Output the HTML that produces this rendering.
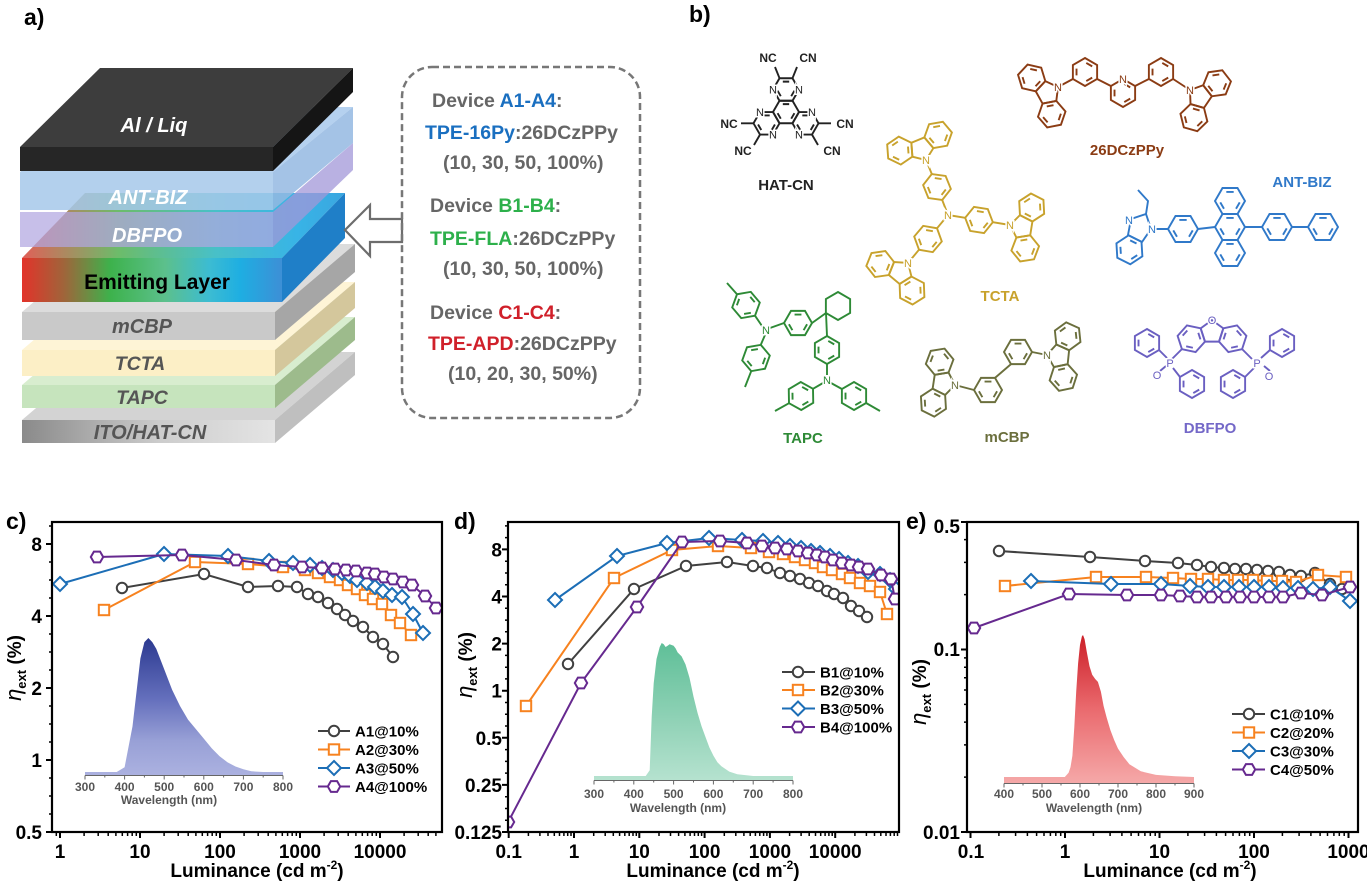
<!DOCTYPE html>
<html><head><meta charset="utf-8">
<style>
html,body{margin:0;padding:0;background:#fff;}
svg{display:block;}
text{font-family:"Liberation Sans",Arial,sans-serif;font-weight:bold;}
.tk{font-size:19px;fill:#000;}
.lg{font-size:15px;fill:#000;}
.in{font-size:12px;fill:#555;}
.pl{font-size:23px;fill:#000;}
.mol{font-size:15px;}
.at{font-size:11px;font-weight:normal;stroke:#fff;stroke-width:3px;paint-order:stroke;}
.dv{font-size:19.5px;fill:#666;}
</style></head>
<body>
<svg width="1367" height="884" viewBox="0 0 1367 884" xmlns="http://www.w3.org/2000/svg">
<defs>
  <g id="P"><polygon vector-effect="non-scaling-stroke" points="0,-10 8.66,-5 8.66,5 0,10 -8.66,5 -8.66,-5"/><path vector-effect="non-scaling-stroke" d="M0.91,-6.48L5.15,-4.02M5.15,4.02L0.91,6.48M-6.06,2.45L-6.06,-2.45"/></g>
  <g id="F"><polygon vector-effect="non-scaling-stroke" points="10,0 5,8.66 -5,8.66 -10,0 -5,-8.66 5,-8.66"/><path vector-effect="non-scaling-stroke" d="M6.48,0.91L4.02,5.15M-4.02,5.15L-6.48,0.91M-2.45,-6.06L2.45,-6.06"/></g>
  <polygon id="C6" vector-effect="non-scaling-stroke" points="0,-10 8.66,-5 8.66,5 0,10 -8.66,5 -8.66,-5"/>
  <g id="CZ"><polygon vector-effect="non-scaling-stroke" points="0,8.51 -8.09,2.63 -5,-6.88 5,-6.88 8.09,2.63"/><use href="#F" transform="translate(-14.79,-4.81) rotate(-12)"/><use href="#F" transform="translate(14.79,-4.81) rotate(12)"/></g>
  <circle id="mc" r="5.2"/>
  <rect id="ms" x="-5.2" y="-5.2" width="10.4" height="10.4"/>
  <polygon id="md" points="0,-7 7,0 0,7 -7,0"/>
  <polygon id="mh" points="6.2,0 3.1,5.4 -3.1,5.4 -6.2,0 -3.1,-5.4 3.1,-5.4"/>
  <linearGradient id="emlF" x1="22" y1="0" x2="282" y2="0" gradientUnits="userSpaceOnUse">
    <stop offset="0" stop-color="#e2332a"/><stop offset="0.16" stop-color="#a0643a"/><stop offset="0.34" stop-color="#3db24c"/><stop offset="0.55" stop-color="#5cc08c"/><stop offset="0.72" stop-color="#3cbcd2"/><stop offset="0.84" stop-color="#1eaee2"/><stop offset="1" stop-color="#3d8fd6"/>
  </linearGradient>
  <linearGradient id="emlT" x1="22" y1="0" x2="345" y2="0" gradientUnits="userSpaceOnUse">
    <stop offset="0" stop-color="#e06058"/><stop offset="0.3" stop-color="#6cbc6a"/><stop offset="0.6" stop-color="#48c0c8"/><stop offset="0.85" stop-color="#38b4e6"/><stop offset="1" stop-color="#3aa6e0"/>
  </linearGradient>
  <linearGradient id="ito" x1="22" y1="0" x2="275" y2="0" gradientUnits="userSpaceOnUse">
    <stop offset="0" stop-color="#8a8a8a"/><stop offset="0.55" stop-color="#cdcdcd"/><stop offset="1" stop-color="#e4e4e4"/>
  </linearGradient>
  <linearGradient id="gc" x1="0" y1="638" x2="0" y2="775" gradientUnits="userSpaceOnUse">
    <stop offset="0" stop-color="#2b3990"/><stop offset="0.45" stop-color="#6570bd"/><stop offset="0.75" stop-color="#98a0d6"/><stop offset="1" stop-color="#abb1e0"/>
  </linearGradient>
  <linearGradient id="gd" x1="0" y1="643" x2="0" y2="780" gradientUnits="userSpaceOnUse">
    <stop offset="0" stop-color="#5fbf98"/><stop offset="0.6" stop-color="#93d3b8"/><stop offset="1" stop-color="#b5e2cf"/>
  </linearGradient>
  <linearGradient id="ge" x1="0" y1="635" x2="0" y2="783" gradientUnits="userSpaceOnUse">
    <stop offset="0" stop-color="#cc1f28"/><stop offset="0.5" stop-color="#ea6a6e"/><stop offset="1" stop-color="#f5a8a8"/>
  </linearGradient>
  <clipPath id="clc"><rect x="52" y="522" width="390" height="310"/></clipPath>
  <clipPath id="cld"><rect x="508" y="522" width="391" height="310"/></clipPath>
  <clipPath id="cle"><rect x="967" y="522" width="391" height="310"/></clipPath>
</defs>
<rect width="1367" height="884" fill="#fff"/>

<!-- ================= Panel a ================= -->
<text class="pl" x="24" y="25">a)</text>
<polygon points="22,420 102,352 355,352 275,420" fill="#d3d3d3"/>
<rect x="22" y="420" width="253" height="23" fill="url(#ito)"/>
<polygon points="275,420 355,352 355,375 275,443" fill="#bfbfbf"/>
<polygon points="22,385 102,317 355,317 275,385" fill="#d8edcf"/>
<rect x="22" y="385" width="253" height="23" fill="#c6e4bd"/>
<polygon points="275,385 355,317 355,340 275,408" fill="#9dbb8c"/>
<polygon points="22,350 102,282 355,282 275,350" fill="#fef4d6"/>
<rect x="22" y="350" width="253" height="26" fill="#fcefc6"/>
<polygon points="275,350 355,282 355,308 275,376" fill="#d4c79c"/>
<polygon points="22,312 102,244 355,244 275,312" fill="#dcdcdc"/>
<rect x="22" y="312" width="253" height="28" fill="#c9c9c9"/>
<polygon points="275,312 355,244 355,272 275,340" fill="#a6a6a6"/>
<polygon points="22,258 85,193 345,193 282,258" fill="url(#emlT)"/>
<rect x="22" y="258" width="260" height="44" fill="url(#emlF)"/>
<polygon points="282,258 345,193 345,238 282,302" fill="#1f7fc8"/>
<rect x="20" y="212" width="253" height="35" fill="#b2a6e0" opacity="0.72"/>
<polygon points="273,212 353,143 353,170 273,247" fill="#a197d8" opacity="0.75"/>
<polygon points="20,172 100,107 353,107 273,172" fill="#a8c9ec" opacity="0.85"/>
<rect x="20" y="172" width="253" height="38" fill="#a6c8ea" opacity="0.85"/>
<polygon points="273,172 353,107 353,143 273,210" fill="#94b8e2" opacity="0.85"/>
<polygon points="20,147 100,68 353,68 273,147" fill="#3d3d3d"/>
<rect x="20" y="147" width="253" height="24" fill="#262626"/>
<polygon points="273,147 353,68 353,92 273,171" fill="#151515"/>
<text x="154" y="132" font-size="20" font-style="italic" fill="#fff" text-anchor="middle">Al / Liq</text>
<text x="148" y="204" font-size="20" font-style="italic" fill="#fff" text-anchor="middle">ANT-BIZ</text>
<text x="147" y="242" font-size="20" font-style="italic" fill="#fff" text-anchor="middle">DBFPO</text>
<text x="157" y="289" font-size="21" fill="#000" text-anchor="middle">Emitting Layer</text>
<text x="142" y="333" font-size="20" font-style="italic" fill="#555" text-anchor="middle">mCBP</text>
<text x="140" y="370" font-size="19.5" font-style="italic" fill="#555" text-anchor="middle">TCTA</text>
<text x="142" y="404" font-size="19.5" font-style="italic" fill="#555" text-anchor="middle">TAPC</text>
<text x="150" y="439" font-size="20" font-style="italic" fill="#555" text-anchor="middle">ITO/HAT-CN</text>
<path d="M345,230 L370,205 L370,219 L402,219 L402,242 L370,242 L370,256 Z" fill="#fff" stroke="#6d6d6d" stroke-width="2.2" stroke-linejoin="miter"/>
<rect x="402" y="67" width="238" height="351" rx="30" ry="30" fill="none" stroke="#777" stroke-width="2.5" stroke-dasharray="7 4"/>
<text class="dv" x="432" y="107">Device <tspan fill="#1a6fc0">A1-A4</tspan>:</text>
<text class="dv" x="425" y="139"><tspan fill="#1a6fc0">TPE-16Py</tspan>:26DCzPPy</text>
<text class="dv" x="443" y="169">(10, 30, 50, 100%)</text>
<text class="dv" x="430" y="212">Device <tspan fill="#2db04b">B1-B4</tspan>:</text>
<text class="dv" x="430" y="245"><tspan fill="#2db04b">TPE-FLA</tspan>:26DCzPPy</text>
<text class="dv" x="443" y="275">(10, 30, 50, 100%)</text>
<text class="dv" x="430" y="319">Device <tspan fill="#d0202a">C1-C4</tspan>:</text>
<text class="dv" x="428" y="350"><tspan fill="#d0202a">TPE-APD</tspan>:26DCzPPy</text>
<text class="dv" x="448" y="380">(10, 20, 30, 50%)</text>

<!-- ================= Panel b ================= -->
<text class="pl" x="689" y="22">b)</text>
<g fill="none" stroke="#222" stroke-width="1.9">
  <use href="#F" transform="translate(786,112) scale(1.3)"/>
  <use href="#F" transform="translate(786,89.5) scale(1.3)"/>
  <use href="#F" transform="translate(766.5,123.3) scale(1.3)"/>
  <use href="#F" transform="translate(805.5,123.3) scale(1.3)"/>
  <path d="M779.5,78.2L775,67M792.5,78.2L797,67M753.5,123.3L741,123.3M760,134.6L754,145M818.5,123.3L831,123.3M812,134.6L818,145"/>
</g>
<g fill="#222">
  <text class="at" x="773" y="93.5" text-anchor="middle">N</text>
  <text class="at" x="799" y="93.5" text-anchor="middle">N</text>
  <text class="at" x="760" y="116" text-anchor="middle">N</text>
  <text class="at" x="773" y="138.6" text-anchor="middle">N</text>
  <text class="at" x="812" y="116" text-anchor="middle">N</text>
  <text class="at" x="799" y="138.6" text-anchor="middle">N</text>
  <text x="768" y="62" font-size="12" font-weight="normal" text-anchor="middle">NC</text>
  <text x="808" y="62" font-size="12" font-weight="normal" text-anchor="middle">CN</text>
  <text x="729" y="128" font-size="12" font-weight="normal" text-anchor="middle">NC</text>
  <text x="845" y="128" font-size="12" font-weight="normal" text-anchor="middle">CN</text>
  <text x="743" y="155" font-size="12" font-weight="normal" text-anchor="middle">NC</text>
  <text x="832" y="155" font-size="12" font-weight="normal" text-anchor="middle">CN</text>
  <text class="mol" x="786" y="190" text-anchor="middle">HAT-CN</text>
</g>
<g fill="none" stroke="#c8a22c" stroke-width="1.9">
  <g transform="translate(921.5,149) rotate(-22.2) scale(1.4)"><use href="#CZ"/></g>
  <g transform="translate(1021.8,226.9) rotate(99) scale(1.4)"><use href="#CZ"/></g>
  <g transform="translate(900.4,272.1) rotate(-140.2) scale(1.4)"><use href="#CZ"/></g>
  <use href="#P" transform="translate(937,187) rotate(-22) scale(1.4)"/>
  <use href="#F" transform="translate(979,220) rotate(9) scale(1.4)"/>
  <use href="#F" transform="translate(928,239) rotate(130) scale(1.4)"/>
  <path d="M931.8,174L926,160M942.2,200L948,215M948,215L965.2,217.8M948,215L937,228.3M992.8,222.2L1010,225M919,249.7L908,263"/>
</g>
<g fill="#c8a22c">
  <text class="at" x="948" y="219" text-anchor="middle">N</text>
  <text class="at" x="926" y="164" text-anchor="middle">N</text>
  <text class="at" x="1010" y="229" text-anchor="middle">N</text>
  <text class="at" x="908" y="267" text-anchor="middle">N</text>
  <text class="mol" x="1000" y="301" text-anchor="middle">TCTA</text>
</g>
<g fill="none" stroke="#6b6f3d" stroke-width="1.9">
  <g transform="translate(943.2,383.2) rotate(-81.4) scale(1.4)"><use href="#CZ"/></g>
  <use href="#F" transform="translate(988,390) scale(1.4)"/>
  <use href="#F" transform="translate(1018,352) scale(1.4)"/>
  <g transform="translate(1058.8,356.2) rotate(96) scale(1.4)"><use href="#CZ"/></g>
  <path d="M955,385L974,390M995,377.9L1011,364.1M1032,352L1047,355"/>
</g>
<g fill="#6b6f3d">
  <text class="at" x="955" y="389" text-anchor="middle">N</text>
  <text class="at" x="1047" y="359" text-anchor="middle">N</text>
  <text class="mol" x="1007" y="442" text-anchor="middle">mCBP</text>
</g>
<g fill="none" stroke="#2e8a36" stroke-width="1.9">
  <use href="#C6" transform="translate(838,306) scale(1.4)"/>
  <use href="#F" transform="translate(798,323) scale(1.4)"/>
  <use href="#F" transform="translate(746,305) rotate(50) scale(1.4)"/>
  <use href="#F" transform="translate(756,358) rotate(110) scale(1.4)"/>
  <use href="#P" transform="translate(827,350) scale(1.4)"/>
  <use href="#F" transform="translate(801,396) rotate(149) scale(1.4)"/>
  <use href="#F" transform="translate(854,396) rotate(30) scale(1.4)"/>
  <path d="M812,323L826,313M826,313L827,336M784,323L770,328M762,326L755,315.7M737,294.3L727,283M765,335L760.8,344.8M751.2,371.2L745,387M827,364L827,375M823,383L813,388.8M789,403.2L775,411M831,383L841.9,389M866.1,403L880,411"/>
</g>
<g fill="#2e8a36">
  <text class="at" x="766" y="334" text-anchor="middle">N</text>
  <text class="at" x="827" y="384" text-anchor="middle">N</text>
  <text class="mol" x="803" y="443" text-anchor="middle">TAPC</text>
</g>
<g fill="none" stroke="#8b3c14" stroke-width="1.9">
  <g transform="translate(1047.6,92.8) rotate(-119) scale(1.4)"><use href="#CZ"/></g>
  <use href="#P" transform="translate(1085,72) scale(1.4)"/>
  <use href="#P" transform="translate(1123,93) scale(1.4)"/>
  <use href="#P" transform="translate(1161,72) scale(1.4)"/>
  <g transform="translate(1199.9,96.7) rotate(124) scale(1.4)"><use href="#CZ"/></g>
  <path d="M1058,87L1072.9,79M1097.1,79L1110.9,86M1135.1,86L1148.9,79M1173.1,79L1190,90"/>
</g>
<g fill="#8b3c14">
  <text class="at" x="1058" y="91" text-anchor="middle">N</text>
  <text class="at" x="1123" y="83" text-anchor="middle">N</text>
  <text class="at" x="1190" y="94" text-anchor="middle">N</text>
  <text class="mol" x="1127" y="155" text-anchor="middle">26DCzPPy</text>
</g>
<g fill="none" stroke="#3079c9" stroke-width="1.9">
  <use href="#F" transform="translate(1230,201) scale(1.5)"/>
  <use href="#F" transform="translate(1230,227) scale(1.5)"/>
  <use href="#F" transform="translate(1230,253) scale(1.5)"/>
  <use href="#F" transform="translate(1183,229) scale(1.5)"/>
  <use href="#F" transform="translate(1277,227) scale(1.5)"/>
  <use href="#F" transform="translate(1323,227) scale(1.5)"/>
  <polygon points="1151,229 1146,214 1131,219 1128,235 1142,242"/>
  <use href="#F" transform="translate(1129.4,249.8) rotate(26.6) scale(1.45)"/>
  <path d="M1198,229L1215,227M1245,227L1262,227M1292,227L1308,227M1168,229L1155,229M1146,214L1148,201L1138,190"/>
</g>
<g fill="#3079c9">
  <text class="at" x="1152" y="233" text-anchor="middle">N</text>
  <text class="at" x="1129" y="224" text-anchor="middle">N</text>
  <text class="mol" x="1302" y="187" text-anchor="middle">ANT-BIZ</text>
</g>
<g fill="none" stroke="#6a5fc1" stroke-width="1.9">
  <g transform="translate(1212,332) rotate(180) scale(1.4)"><use href="#CZ"/></g>
  <use href="#P" transform="translate(1147,343) scale(1.4)"/>
  <use href="#P" transform="translate(1192,384) scale(1.4)"/>
  <use href="#P" transform="translate(1282,343) scale(1.4)"/>
  <use href="#P" transform="translate(1233,384) scale(1.4)"/>
  <path d="M1182,349L1172,359M1159,350L1167,358M1180,377L1173,368M1242,349L1252,359M1270,350L1261,358M1245,377L1254,368M1166,366L1160,371M1264,366L1270,371"/>
</g>
<g fill="#6a5fc1">
  <text class="at" x="1212" y="324" text-anchor="middle">O</text>
  <text class="at" x="1170" y="367" text-anchor="middle">P</text>
  <text class="at" x="1257" y="367" text-anchor="middle">P</text>
  <text class="at" x="1157" y="379" text-anchor="middle">O</text>
  <text class="at" x="1269" y="380" text-anchor="middle">O</text>
  <text class="mol" x="1210" y="433" text-anchor="middle" fill="#7468c8">DBFPO</text>
</g>

<!-- ================= Panel c ================= -->
<text class="pl" x="6" y="529">c)</text>
<polygon fill="url(#gc)" points="85,775 85,772 116.7,772 124.6,767.2 132.5,726.4 140.4,658.4 144.4,642.1 148.4,638 152.3,642.1 156.3,648.9 164.2,669.3 172.1,689.7 180,706 188,719.6 195.9,729.1 203.8,738.6 211.7,748.2 219.6,756.3 227.6,762.4 235.5,766.5 243.4,769.2 251.3,771.3 263.2,772 283,772 283,775"/>
<path d="M85,775.5H283M85,775.5v4M124.6,775.5v4M164.2,775.5v4M203.8,775.5v4M243.4,775.5v4M283,775.5v4M104.8,775.5v2M144.4,775.5v2M184,775.5v2M223.6,775.5v2M263.2,775.5v2" stroke="#666" stroke-width="1" fill="none"/>
<g text-anchor="middle">
  <text class="in" x="85" y="791">300</text><text class="in" x="124.6" y="791">400</text><text class="in" x="164.2" y="791">500</text><text class="in" x="203.8" y="791">600</text><text class="in" x="243.4" y="791">700</text><text class="in" x="283" y="791">800</text>
  <text class="in" x="169" y="804">Wavelength (nm)</text>
</g>
<path d="M46 832H52M46 760H52M46 688H52M46 616H52M46 544H52M60 832V838M140 832V838M220 832V838M300 832V838M380 832V838" stroke="#000" stroke-width="2" fill="none"/>
<path d="M49 814H52M49 796H52M49 778H52M49 742H52M49 724H52M49 706H52M49 670H52M49 652H52M49 634H52M49 598H52M49 580H52M49 562H52M49 526H52M56.3 832v4M84.1 832v4M98.2 832v4M108.2 832v4M115.9 832v4M122.3 832v4M127.6 832v4M132.2 832v4M136.3 832v4M164.1 832v4M178.2 832v4M188.2 832v4M195.9 832v4M202.3 832v4M207.6 832v4M212.2 832v4M216.3 832v4M244.1 832v4M258.2 832v4M268.2 832v4M275.9 832v4M282.3 832v4M287.6 832v4M292.2 832v4M296.3 832v4M324.1 832v4M338.2 832v4M348.2 832v4M355.9 832v4M362.3 832v4M367.6 832v4M372.2 832v4M376.3 832v4M404.1 832v4M418.2 832v4M428.2 832v4M435.9 832v4" stroke="#000" stroke-width="1.5" fill="none"/>
<g text-anchor="end"><text class="tk" x="42" y="551">8</text><text class="tk" x="42" y="623">4</text><text class="tk" x="42" y="695">2</text><text class="tk" x="42" y="767">1</text><text class="tk" x="42" y="839">0.5</text></g>
<g text-anchor="middle"><text class="tk" x="60" y="858">1</text><text class="tk" x="140" y="858">10</text><text class="tk" x="220" y="858">100</text><text class="tk" x="300" y="858">1000</text><text class="tk" x="380" y="858">10000</text></g>
<text x="257" y="877" font-size="19" text-anchor="middle">Luminance (cd m<tspan font-size="12" dy="-8">-2</tspan><tspan dy="8">)</tspan></text>
<text transform="translate(21,668) rotate(-90)" font-size="19" text-anchor="middle"><tspan font-style="italic" font-weight="normal" font-size="22">η</tspan><tspan font-size="13" dy="5">ext</tspan><tspan dy="-5"> (%)</tspan></text>
<g clip-path="url(#clc)" stroke-width="2">
 <g stroke="#404040" fill="#fff"><polyline fill="none" points="122,588 204,574 248,587 278,586 297,587 308,594 318,597 328,603 337,609 345,615 353,621 363,627 373,637 383,644 393,657"/>
  <use href="#mc" x="122" y="588"/><use href="#mc" x="204" y="574"/><use href="#mc" x="248" y="587"/><use href="#mc" x="278" y="586"/><use href="#mc" x="297" y="587"/><use href="#mc" x="308" y="594"/><use href="#mc" x="318" y="597"/><use href="#mc" x="328" y="603"/><use href="#mc" x="337" y="609"/><use href="#mc" x="345" y="615"/><use href="#mc" x="353" y="621"/><use href="#mc" x="363" y="627"/><use href="#mc" x="373" y="637"/><use href="#mc" x="383" y="644"/><use href="#mc" x="393" y="657"/></g>
 <g stroke="#f7821f" fill="#fff"><polyline fill="none" points="104,610 195,562 248,564 283,567 305,570 318,573 330,577 340,580 348,585 357,589 365,595 373,599 382,604 391,615 400,623 411,635"/>
  <use href="#ms" x="104" y="610"/><use href="#ms" x="195" y="562"/><use href="#ms" x="248" y="564"/><use href="#ms" x="283" y="567"/><use href="#ms" x="305" y="570"/><use href="#ms" x="318" y="573"/><use href="#ms" x="330" y="577"/><use href="#ms" x="340" y="580"/><use href="#ms" x="348" y="585"/><use href="#ms" x="357" y="589"/><use href="#ms" x="365" y="595"/><use href="#ms" x="373" y="599"/><use href="#ms" x="382" y="604"/><use href="#ms" x="391" y="615"/><use href="#ms" x="400" y="623"/><use href="#ms" x="411" y="635"/></g>
 <g stroke="#1c6eb6" fill="#fff"><polyline fill="none" points="60,584 164,554 228,556 269,561 293,563 310,565 322,568 333,570 342,573 350,576 357,580 367,583 375,587 383,591 392,595 402,597 413,614 423,633"/>
  <use href="#md" x="60" y="584"/><use href="#md" x="164" y="554"/><use href="#md" x="228" y="556"/><use href="#md" x="269" y="561"/><use href="#md" x="293" y="563"/><use href="#md" x="310" y="565"/><use href="#md" x="322" y="568"/><use href="#md" x="333" y="570"/><use href="#md" x="342" y="573"/><use href="#md" x="350" y="576"/><use href="#md" x="357" y="580"/><use href="#md" x="367" y="583"/><use href="#md" x="375" y="587"/><use href="#md" x="383" y="591"/><use href="#md" x="392" y="595"/><use href="#md" x="402" y="597"/><use href="#md" x="413" y="614"/><use href="#md" x="423" y="633"/></g>
 <g stroke="#66298f" fill="#fff"><polyline fill="none" points="97,557 182,555 236,560 274,565 302,567 322,568 335,569 346,570 356,571 367,573 375,574 384,577 393,579 403,582 412,585 425,596 436,608"/>
  <use href="#mh" x="97" y="557"/><use href="#mh" x="182" y="555"/><use href="#mh" x="236" y="560"/><use href="#mh" x="274" y="565"/><use href="#mh" x="302" y="567"/><use href="#mh" x="322" y="568"/><use href="#mh" x="335" y="569"/><use href="#mh" x="346" y="570"/><use href="#mh" x="356" y="571"/><use href="#mh" x="367" y="573"/><use href="#mh" x="375" y="574"/><use href="#mh" x="384" y="577"/><use href="#mh" x="393" y="579"/><use href="#mh" x="403" y="582"/><use href="#mh" x="412" y="585"/><use href="#mh" x="425" y="596"/><use href="#mh" x="436" y="608"/></g>
</g>
<rect x="52" y="522" width="390" height="310" fill="none" stroke="#000" stroke-width="2.2"/>
<g stroke-width="2" fill="#fff">
 <g stroke="#404040"><path d="M318,731H350"/><use href="#mc" x="334" y="731"/></g>
 <g stroke="#f7821f"><path d="M318,749.5H350"/><use href="#ms" x="334" y="749.5"/></g>
 <g stroke="#1c6eb6"><path d="M318,768H350"/><use href="#md" x="334" y="768"/></g>
 <g stroke="#66298f"><path d="M318,786.5H350"/><use href="#mh" x="334" y="786.5"/></g>
</g>
<text class="lg" x="355" y="736.5">A1@10%</text><text class="lg" x="355" y="755">A2@30%</text><text class="lg" x="355" y="773.5">A3@50%</text><text class="lg" x="355" y="792">A4@100%</text>

<!-- ================= Panel d ================= -->
<text class="pl" x="454" y="529">d)</text>
<polygon fill="url(#gd)" points="594,780 594,776 645.7,776 649.7,770.3 651.7,716.7 653.7,683.2 656.5,659.1 659.7,647 661.7,643 663.7,644.3 665.6,647 667.6,645.7 669.6,644.3 673.6,645.7 675.6,648.4 677.6,652.4 681.6,656.4 685.5,664.4 689.5,677.8 693.5,696.6 697.5,712.7 701.5,726.1 705.4,736.8 709.4,747.5 713.4,755.6 717.4,762.3 721.4,766.3 729.3,771.6 737.3,774.3 753.2,776 793,776 793,780"/>
<path d="M594,780.5H793M594,780.5v4M633.8,780.5v4M673.6,780.5v4M713.4,780.5v4M753.2,780.5v4M793,780.5v4M613.9,780.5v2M653.7,780.5v2M693.5,780.5v2M733.3,780.5v2M773.1,780.5v2" stroke="#666" stroke-width="1" fill="none"/>
<g text-anchor="middle">
  <text class="in" x="594" y="798">300</text><text class="in" x="633.8" y="798">400</text><text class="in" x="673.6" y="798">500</text><text class="in" x="713.4" y="798">600</text><text class="in" x="753.2" y="798">700</text><text class="in" x="793" y="798">800</text>
  <text class="in" x="678" y="812">Wavelength (nm)</text>
</g>
<path d="M502 832H508M502 784.9H508M502 737.8H508M502 690.7H508M502 643.6H508M502 596.5H508M502 549.4H508M508.7 832V838M574 832V838M639.3 832V838M704.6 832V838M769.9 832V838M835.2 832V838" stroke="#000" stroke-width="2" fill="none"/>
<path d="M505 820.2H508M505 808.5H508M505 796.7H508M505 773.1H508M505 761.4H508M505 749.6H508M505 726H508M505 714.3H508M505 702.5H508M505 678.9H508M505 667.2H508M505 655.4H508M505 631.8H508M505 620.1H508M505 608.3H508M505 584.7H508M505 573H508M505 561.2H508M505 537.6H508M505 525.9H508M528.4 832v4M539.9 832v4M548 832v4M554.3 832v4M559.5 832v4M563.9 832v4M567.7 832v4M571 832v4M593.7 832v4M605.2 832v4M613.3 832v4M619.6 832v4M624.8 832v4M629.2 832v4M633 832v4M636.3 832v4M659 832v4M670.5 832v4M678.6 832v4M684.9 832v4M690.1 832v4M694.5 832v4M698.3 832v4M701.6 832v4M724.3 832v4M735.8 832v4M743.9 832v4M750.2 832v4M755.4 832v4M759.8 832v4M763.6 832v4M766.9 832v4M789.6 832v4M801.1 832v4M809.2 832v4M815.5 832v4M820.7 832v4M825.1 832v4M828.9 832v4M832.2 832v4M854.9 832v4M866.4 832v4M874.5 832v4M880.8 832v4M886 832v4M890.4 832v4M894.2 832v4M897.5 832v4" stroke="#000" stroke-width="1.5" fill="none"/>
<g text-anchor="end"><text class="tk" x="502" y="556.4">8</text><text class="tk" x="502" y="603.5">4</text><text class="tk" x="502" y="650.6">2</text><text class="tk" x="502" y="697.7">1</text><text class="tk" x="502" y="744.8">0.5</text><text class="tk" x="502" y="791.9">0.25</text><text class="tk" x="502" y="839">0.125</text></g>
<g text-anchor="middle"><text class="tk" x="508.7" y="858">0.1</text><text class="tk" x="574" y="858">1</text><text class="tk" x="639.3" y="858">10</text><text class="tk" x="704.6" y="858">100</text><text class="tk" x="769.9" y="858">1000</text><text class="tk" x="835.2" y="858">10000</text></g>
<text x="713" y="877" font-size="19" text-anchor="middle">Luminance (cd m<tspan font-size="12" dy="-8">-2</tspan><tspan dy="8">)</tspan></text>
<text transform="translate(472,665) rotate(-90)" font-size="19" text-anchor="middle"><tspan font-style="italic" font-weight="normal" font-size="22">η</tspan><tspan font-size="13" dy="5">ext</tspan><tspan dy="-5"> (%)</tspan></text>
<g clip-path="url(#cld)" stroke-width="2">
 <g stroke="#404040" fill="#fff"><polyline fill="none" points="568,664 634,589 686,566 727,562 753,566 767,568 780,573 790,576 800,579 809,583 818,586 827,591 834,594 843,598 851,606 859,611 867,617"/>
  <use href="#mc" x="568" y="664"/><use href="#mc" x="634" y="589"/><use href="#mc" x="686" y="566"/><use href="#mc" x="727" y="562"/><use href="#mc" x="753" y="566"/><use href="#mc" x="767" y="568"/><use href="#mc" x="780" y="573"/><use href="#mc" x="790" y="576"/><use href="#mc" x="800" y="579"/><use href="#mc" x="809" y="583"/><use href="#mc" x="818" y="586"/><use href="#mc" x="827" y="591"/><use href="#mc" x="834" y="594"/><use href="#mc" x="843" y="598"/><use href="#mc" x="851" y="606"/><use href="#mc" x="859" y="611"/><use href="#mc" x="867" y="617"/></g>
 <g stroke="#f7821f" fill="#fff"><polyline fill="none" points="526,706 614,578 672,550 718,546 751,548 769,552 783,554 795,557 805,560 815,563 823,567 832,570 842,574 850,578 860,583 870,586 880,592 887,614"/>
  <use href="#ms" x="526" y="706"/><use href="#ms" x="614" y="578"/><use href="#ms" x="672" y="550"/><use href="#ms" x="718" y="546"/><use href="#ms" x="751" y="548"/><use href="#ms" x="769" y="552"/><use href="#ms" x="783" y="554"/><use href="#ms" x="795" y="557"/><use href="#ms" x="805" y="560"/><use href="#ms" x="815" y="563"/><use href="#ms" x="823" y="567"/><use href="#ms" x="832" y="570"/><use href="#ms" x="842" y="574"/><use href="#ms" x="850" y="578"/><use href="#ms" x="860" y="583"/><use href="#ms" x="870" y="586"/><use href="#ms" x="880" y="592"/><use href="#ms" x="887" y="614"/></g>
 <g stroke="#1c6eb6" fill="#fff"><polyline fill="none" points="555,600 617,556 667,543 709,538 742,540 763,541 778,543 790,546 801,548 811,551 820,553 830,556 839,559 848,563 858,566 868,572 880,574 890,580 896,589"/>
  <use href="#md" x="555" y="600"/><use href="#md" x="617" y="556"/><use href="#md" x="667" y="543"/><use href="#md" x="709" y="538"/><use href="#md" x="742" y="540"/><use href="#md" x="763" y="541"/><use href="#md" x="778" y="543"/><use href="#md" x="790" y="546"/><use href="#md" x="801" y="548"/><use href="#md" x="811" y="551"/><use href="#md" x="820" y="553"/><use href="#md" x="830" y="556"/><use href="#md" x="839" y="559"/><use href="#md" x="848" y="563"/><use href="#md" x="858" y="566"/><use href="#md" x="868" y="572"/><use href="#md" x="880" y="574"/><use href="#md" x="890" y="580"/><use href="#md" x="896" y="589"/></g>
 <g stroke="#66298f" fill="#fff"><polyline fill="none" points="504,830 581,683 637,607 682,542 720,541 747,543 762,546 775,548 787,549 798,551 808,553 817,555 825,557 833,560 842,563 851,565 859,567 868,569 881,575 891,579 895,599"/>
  <use href="#mh" x="508" y="822"/><use href="#mh" x="581" y="683"/><use href="#mh" x="637" y="607"/><use href="#mh" x="682" y="542"/><use href="#mh" x="720" y="541"/><use href="#mh" x="747" y="543"/><use href="#mh" x="762" y="546"/><use href="#mh" x="775" y="548"/><use href="#mh" x="787" y="549"/><use href="#mh" x="798" y="551"/><use href="#mh" x="808" y="553"/><use href="#mh" x="817" y="555"/><use href="#mh" x="825" y="557"/><use href="#mh" x="833" y="560"/><use href="#mh" x="842" y="563"/><use href="#mh" x="851" y="565"/><use href="#mh" x="859" y="567"/><use href="#mh" x="868" y="569"/><use href="#mh" x="881" y="575"/><use href="#mh" x="891" y="579"/><use href="#mh" x="895" y="599"/></g>
</g>
<rect x="508" y="522" width="391" height="310" fill="none" stroke="#000" stroke-width="2.2"/>
<g stroke-width="2" fill="#fff">
 <g stroke="#404040"><path d="M782,672H815"/><use href="#mc" x="798" y="672"/></g>
 <g stroke="#f7821f"><path d="M782,690H815"/><use href="#ms" x="798" y="690"/></g>
 <g stroke="#1c6eb6"><path d="M782,708.5H815"/><use href="#md" x="798" y="708.5"/></g>
 <g stroke="#66298f"><path d="M782,727H815"/><use href="#mh" x="798" y="727"/></g>
</g>
<text class="lg" x="820" y="677.5">B1@10%</text><text class="lg" x="820" y="695.5">B2@30%</text><text class="lg" x="820" y="714">B3@50%</text><text class="lg" x="820" y="732.5">B4@100%</text>

<!-- ================= Panel e ================= -->
<text class="pl" x="906" y="529">e)</text>
<polygon fill="url(#ge)" points="1004,783 1004,777 1064.8,777 1068.6,772.7 1070.5,767.1 1072.4,755.7 1074.3,727.3 1076.2,691.8 1078.1,663.4 1080,644.9 1081.9,636.4 1083,635 1084.6,639.3 1086.8,652 1089.5,666.2 1092.2,674.8 1095.2,679 1097.9,681.9 1100.9,691.8 1103.6,706 1106.6,717.4 1110.4,730.1 1114.2,740.1 1118,748.6 1123.7,757.1 1129.4,764.2 1140.8,771.3 1156,774.9 1175,776.3 1194,777 1194,783"/>
<path d="M1004,783.5H1194M1004,783.5v4M1042,783.5v4M1080,783.5v4M1118,783.5v4M1156,783.5v4M1194,783.5v4M1023,783.5v2M1061,783.5v2M1099,783.5v2M1137,783.5v2M1175,783.5v2" stroke="#666" stroke-width="1" fill="none"/>
<g text-anchor="middle">
  <text class="in" x="1004" y="798">400</text><text class="in" x="1042" y="798">500</text><text class="in" x="1080" y="798">600</text><text class="in" x="1118" y="798">700</text><text class="in" x="1156" y="798">800</text><text class="in" x="1194" y="798">900</text>
  <text class="in" x="1094" y="812">Wavelength (nm)</text>
</g>
<path d="M961 832H967M961 649.5H967M961 522H967M970.5 832V838M1065 832V838M1159.5 832V838M1254 832V838M1348.5 832V838" stroke="#000" stroke-width="2" fill="none"/>
<path d="M964 777.1H967M964 744.9H967M964 722.1H967M964 704.4H967M964 690H967M964 677.8H967M964 667.2H967M964 657.9H967M964 594.6H967M964 562.4H967M964 539.6H967M998.9 832v4M1015.6 832v4M1027.4 832v4M1036.6 832v4M1044 832v4M1050.4 832v4M1055.8 832v4M1060.7 832v4M1093.4 832v4M1110.1 832v4M1121.9 832v4M1131.1 832v4M1138.5 832v4M1144.9 832v4M1150.3 832v4M1155.2 832v4M1187.9 832v4M1204.6 832v4M1216.4 832v4M1225.6 832v4M1233 832v4M1239.4 832v4M1244.8 832v4M1249.7 832v4M1282.4 832v4M1299.1 832v4M1310.9 832v4M1320.1 832v4M1327.5 832v4M1333.9 832v4M1339.3 832v4M1344.2 832v4" stroke="#000" stroke-width="1.5" fill="none"/>
<g text-anchor="end"><text class="tk" x="960" y="533">0.5</text><text class="tk" x="960" y="656">0.1</text><text class="tk" x="960" y="839">0.01</text></g>
<g text-anchor="middle"><text class="tk" x="971" y="858">0.1</text><text class="tk" x="1065" y="858">1</text><text class="tk" x="1159.5" y="858">10</text><text class="tk" x="1254" y="858">100</text><text class="tk" x="1348.5" y="858">1000</text></g>
<text x="1170" y="877" font-size="19" text-anchor="middle">Luminance (cd m<tspan font-size="12" dy="-8">-2</tspan><tspan dy="8">)</tspan></text>
<text transform="translate(926,692) rotate(-90)" font-size="19" text-anchor="middle"><tspan font-style="italic" font-weight="normal" font-size="22">η</tspan><tspan font-size="13" dy="5">ext</tspan><tspan dy="-5"> (%)</tspan></text>
<g clip-path="url(#cle)" stroke-width="2">
 <g stroke="#404040" fill="#fff"><polyline fill="none" points="999,551 1090,557 1145,561 1178,563 1197,565 1211,567 1224,568 1235,569 1246,569 1257,570 1268,571 1279,572 1290,575 1301,576 1315,573 1330,584 1342,589"/>
  <use href="#mc" x="999" y="551"/><use href="#mc" x="1090" y="557"/><use href="#mc" x="1145" y="561"/><use href="#mc" x="1178" y="563"/><use href="#mc" x="1197" y="565"/><use href="#mc" x="1211" y="567"/><use href="#mc" x="1224" y="568"/><use href="#mc" x="1235" y="569"/><use href="#mc" x="1246" y="569"/><use href="#mc" x="1257" y="570"/><use href="#mc" x="1268" y="571"/><use href="#mc" x="1279" y="572"/><use href="#mc" x="1290" y="575"/><use href="#mc" x="1301" y="576"/><use href="#mc" x="1315" y="573"/><use href="#mc" x="1330" y="584"/><use href="#mc" x="1342" y="589"/></g>
 <g stroke="#f7821f" fill="#fff"><polyline fill="none" points="1005,586 1096,577 1146,577 1173,578 1191,579 1208,579 1224,580 1238,580 1253,580 1267,581 1282,581 1296,582 1318,575 1346,577"/>
  <use href="#ms" x="1005" y="586"/><use href="#ms" x="1096" y="577"/><use href="#ms" x="1146" y="577"/><use href="#ms" x="1173" y="578"/><use href="#ms" x="1191" y="579"/><use href="#ms" x="1208" y="579"/><use href="#ms" x="1224" y="580"/><use href="#ms" x="1238" y="580"/><use href="#ms" x="1253" y="580"/><use href="#ms" x="1267" y="581"/><use href="#ms" x="1282" y="581"/><use href="#ms" x="1296" y="582"/><use href="#ms" x="1318" y="575"/><use href="#ms" x="1346" y="577"/></g>
 <g stroke="#1c6eb6" fill="#fff"><polyline fill="none" points="1031,581 1111,584 1161,584 1190,586 1208,587 1224,587 1239,587 1254,587 1269,587 1283,588 1298,588 1313,589 1330,587 1350,601"/>
  <use href="#md" x="1031" y="581"/><use href="#md" x="1111" y="584"/><use href="#md" x="1161" y="584"/><use href="#md" x="1190" y="586"/><use href="#md" x="1208" y="587"/><use href="#md" x="1224" y="587"/><use href="#md" x="1239" y="587"/><use href="#md" x="1254" y="587"/><use href="#md" x="1269" y="587"/><use href="#md" x="1283" y="588"/><use href="#md" x="1298" y="588"/><use href="#md" x="1313" y="589"/><use href="#md" x="1330" y="587"/><use href="#md" x="1350" y="601"/></g>
 <g stroke="#66298f" fill="#fff"><polyline fill="none" points="974,628 1069,594 1127,595 1161,595 1180,596 1197,597 1211,597 1226,597 1240,597 1254,597 1269,597 1283,597 1301,593 1322,595 1350,587"/>
  <use href="#mh" x="974" y="628"/><use href="#mh" x="1069" y="594"/><use href="#mh" x="1127" y="595"/><use href="#mh" x="1161" y="595"/><use href="#mh" x="1180" y="596"/><use href="#mh" x="1197" y="597"/><use href="#mh" x="1211" y="597"/><use href="#mh" x="1226" y="597"/><use href="#mh" x="1240" y="597"/><use href="#mh" x="1254" y="597"/><use href="#mh" x="1269" y="597"/><use href="#mh" x="1283" y="597"/><use href="#mh" x="1301" y="593"/><use href="#mh" x="1322" y="595"/><use href="#mh" x="1350" y="587"/></g>
</g>
<rect x="967" y="522" width="391" height="310" fill="none" stroke="#000" stroke-width="2.2"/>
<g stroke-width="2" fill="#fff">
 <g stroke="#404040"><path d="M1232,714H1265"/><use href="#mc" x="1249" y="714"/></g>
 <g stroke="#f7821f"><path d="M1232,732.5H1265"/><use href="#ms" x="1249" y="732.5"/></g>
 <g stroke="#1c6eb6"><path d="M1232,751H1265"/><use href="#md" x="1249" y="751"/></g>
 <g stroke="#66298f"><path d="M1232,769.5H1265"/><use href="#mh" x="1249" y="769.5"/></g>
</g>
<text class="lg" x="1270" y="719.5">C1@10%</text><text class="lg" x="1270" y="738">C2@20%</text><text class="lg" x="1270" y="756.5">C3@30%</text><text class="lg" x="1270" y="775">C4@50%</text>
</svg>
</body></html>
